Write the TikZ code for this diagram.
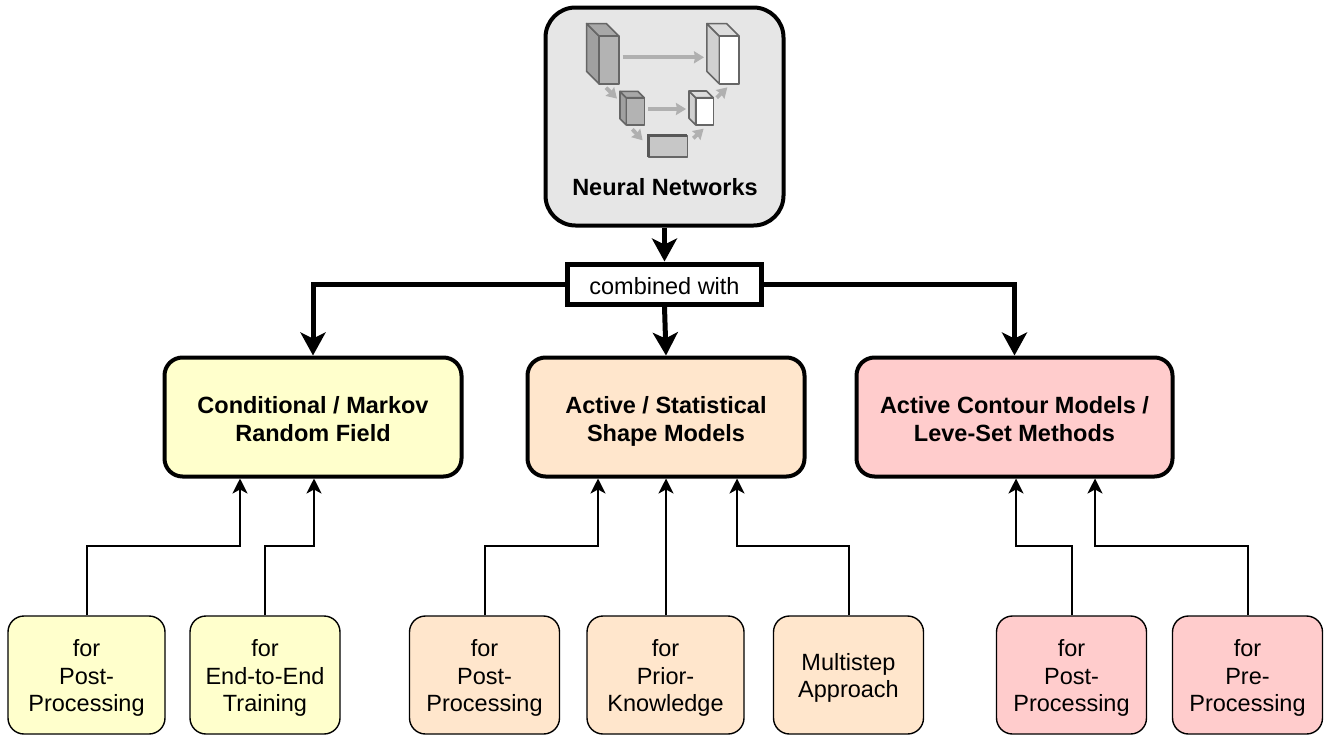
\documentclass[tikz,border=0pt]{standalone}
\usepackage{fontspec}
\setmainfont{Liberation Sans}
\usetikzlibrary{arrows.meta}
\definecolor{crfcol}{HTML}{FFFFCC}
\definecolor{asmcol}{HTML}{FFE6CC}
\definecolor{acmcol}{HTML}{FFCCCC}
\definecolor{nncol}{HTML}{E6E6E6}
\definecolor{edgecol}{HTML}{666666}
\definecolor{flowcol}{HTML}{B0B0B0}
\tikzset{
  mainbox/.style={draw, line width=4pt, rounded corners=18pt, minimum height=119pt, align=center, text height=49pt, text depth=0pt, font=\fontsize{23.5}{28}\selectfont\bfseries},
  subbox/.style={draw, line width=1.4pt, rounded corners=16pt, minimum height=118pt, align=center, text height=73pt, text depth=0pt, font=\fontsize{23.5}{27.5}\selectfont},
  bigarrow/.style={line width=5pt, -{Stealth[length=23pt,width=25pt,inset=6pt]}},
  smallarrow/.style={line width=2pt, -{Stealth[length=15pt,width=15pt,inset=4pt]}},
  flowarrow/.style={draw=flowcol, line width=3.8pt, -{Stealth[length=10pt,width=12pt,inset=1pt]}},
  cubeline/.style={draw=edgecol, line width=1.6pt, line join=round},
}
\begin{document}
\begin{tikzpicture}[x=1pt,y=-1pt]
  \useasboundingbox (0,0) rectangle (1333,750);

  % top box
  \node[draw, line width=4pt, rounded corners=30pt, fill=nncol, minimum width=238pt, minimum height=218pt] (nn) at (664.5,116.5) {};
  \node[font=\fontsize{23.5}{28}\selectfont\bfseries, inner sep=0pt] (nntext) at (665,187) {Neural Networks};

  % icon
  \foreach \x/\y/\w/\h/\d/\front/\side/\tp in {
    599/36/19.7/47.7/12.4/B3B3B3/A0A0A0/A8A8A8,
    719.3/36/19.7/47.7/12.4/FFFFFF/D0D0D0/DDDDDD,
    626.3/97.7/18/27.3/6.3/B3B3B3/A0A0A0/A8A8A8,
    695.7/97.7/17.6/27.3/6.7/FFFFFF/D0D0D0/DDDDDD} {
    \definecolor{cf}{HTML}{\front}
    \definecolor{cs}{HTML}{\side}
    \definecolor{ct}{HTML}{\tp}
    \filldraw[cubeline, fill=cs] (\x,\y) -- ++(-\d,-\d) -- ++(0,\h) -- ++(\d,\d) -- cycle;
    \filldraw[cubeline, fill=ct] (\x,\y) -- ++(-\d,-\d) -- ++(\w,0) -- ++(\d,\d) -- cycle;
    \filldraw[cubeline, fill=cf] (\x,\y) rectangle ++(\w,\h);
  }
  \filldraw[cubeline, fill=black!22] (648.3,135.5) rectangle (687.3,156.7);
  \draw[draw=edgecol!85!black, line width=3pt] (648.3,157) -- (648.3,135.5) -- (687.3,135.5);

  \draw[flowarrow] (622.7,57.3) -- (704,57.3);
  \draw[flowarrow] (648.3,109) -- (686,109);
  \draw[flowarrow] (606,87.7) -- (617,98.6);
  \draw[flowarrow] (632.3,129.3) -- (642.6,140.3);
  \draw[flowarrow] (693.3,138.3) -- (703.6,128.7);
  \draw[flowarrow] (716.7,97.7) -- (727.3,87.4);

  % middle row
  \node[draw, line width=5pt, minimum width=194pt, minimum height=40pt, text height=21pt, text depth=0pt, font=\fontsize{23.5}{28}\selectfont] (comb) at (664.5,284) {combined with};
  \node[mainbox, fill=crfcol, minimum width=297pt] (crf) at (313,417) {Conditional / Markov\\Random Field};
  \node[mainbox, fill=asmcol, minimum width=277pt] (asm) at (666,417) {Active / Statistical\\Shape Models};
  \node[mainbox, fill=acmcol, minimum width=316pt] (acm) at (1014.5,417) {Active Contour Models /\\Leve-Set Methods};

  % bottom row
  \node[subbox, fill=crfcol, minimum width=157pt] (crfpost) at (86.5,675) {for\\Post-\\Processing};
  \node[subbox, fill=crfcol, minimum width=150pt] (crfend) at (265,675) {for\\End-to-End\\Training};
  \node[subbox, fill=asmcol, minimum width=150pt] (asmpost) at (484.5,675) {for\\Post-\\Processing};
  \node[subbox, fill=asmcol, minimum width=157pt] (asmprior) at (665.5,675) {for\\Prior-\\Knowledge};
  \node[subbox, fill=asmcol, minimum width=150pt, text height=45.5pt] (asmmulti) at (848.5,675) {Multistep\\Approach};
  \node[subbox, fill=acmcol, minimum width=150pt] (acmpost) at (1071.5,675) {for\\Post-\\Processing};
  \node[subbox, fill=acmcol, minimum width=150pt] (acmpre) at (1247.5,675) {for\\Pre-\\Processing};

  % connectors
  \draw[bigarrow] (nn.south) -- (comb.north);
  \draw[bigarrow] (comb.west) -| (crf.north);
  \draw[bigarrow] (comb.south) -- (asm.north);
  \draw[bigarrow] (comb.east) -| (acm.north);

  \draw[smallarrow] ([xshift=.5pt]crfpost.north) |- (240,546) -- ([xshift=-73pt]crf.south);
  \draw[smallarrow] (crfend.north) |- (314,546) -- ([xshift=1pt]crf.south);
  \draw[smallarrow] ([xshift=.5pt]asmpost.north) |- (598,546) -- ([xshift=-68pt]asm.south);
  \draw[smallarrow] ([xshift=.5pt]asmprior.north) -- (asm.south);
  \draw[smallarrow] ([xshift=.5pt]asmmulti.north) |- (737,546) -- ([xshift=71pt]asm.south);
  \draw[smallarrow] ([xshift=.5pt]acmpost.north) |- (1016,546) -- ([xshift=1.5pt]acm.south);
  \draw[smallarrow] ([xshift=.5pt]acmpre.north) |- (1095,546) -- ([xshift=80.5pt]acm.south);
\end{tikzpicture}
\end{document}
